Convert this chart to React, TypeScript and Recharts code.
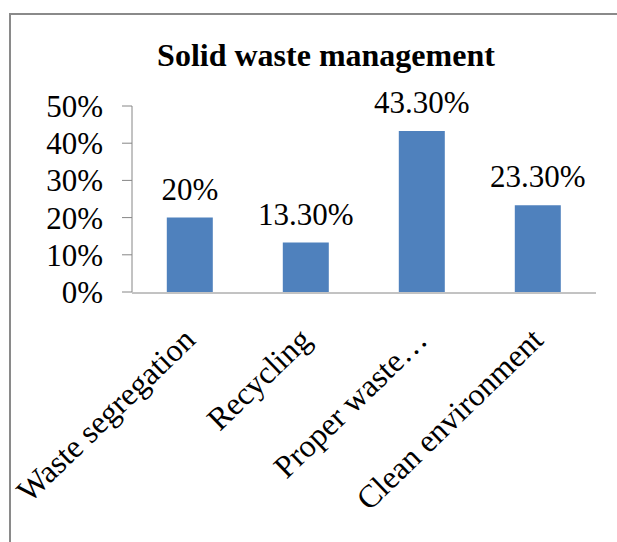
import { Bar, BarChart, LabelList, XAxis, YAxis } from "recharts";

const categories = ["Waste segregation", "Recycling", "Proper waste…", "Clean environment"];
const shares = [20, 13.3, 43.3, 23.3];
const shareLabels = ["20%", "13.30%", "43.30%", "23.30%"];
const yTicks = [0, 10, 20, 30, 40, 50];
const edgeTicks = [0, 1, 2, 3, 4];

const rows = categories.map((name, i) => ({ name, share: shares[i], label: shareLabels[i] }));

const serif = '"Liberation Serif", "Times New Roman", serif';
const axisGray = "#868686";

// 斜排类目标签（文字末端对准类目中心下方）
function SlantTick({ x, y, payload }: any) {
  return (
    <g transform={`translate(${x + 7},${y + 50})`}>
      <text textAnchor="end" transform="rotate(-44)" fontSize={32} fill="#000">
        {payload.value}
      </text>
    </g>
  );
}

export default function App() {
  return (
    <div
      style={{
        position: "absolute",
        left: 0,
        top: 0,
        width: 617,
        height: 542,
        background: "#fff",
        overflow: "hidden",
        fontFamily: serif,
      }}
    >
      <style>{`.chart-box svg text { font-family: ${serif} !important; }`}</style>
      <div
        style={{
          position: "absolute",
          left: 9,
          top: 13,
          width: 640,
          height: 560,
          borderTop: "2px solid #8a8a8a",
          borderLeft: "2px solid #8a8a8a",
        }}
      />
      <div
        style={{
          position: "absolute",
          left: 0,
          top: 39,
          width: 652,
          textAlign: "center",
          fontWeight: "bold",
          fontSize: 32,
          lineHeight: "32px",
          color: "#000",
        }}
      >
        Solid waste management
      </div>
      <div className="chart-box" style={{ position: "absolute", left: 0, top: 0 }}>
        <BarChart
          width={617}
          height={542}
          data={rows}
          barCategoryGap="30%"
          margin={{ top: 106, right: 21, bottom: 248, left: 0 }}
        >
          <XAxis
            xAxisId="edges"
            type="number"
            domain={[0, 4]}
            ticks={edgeTicks}
            interval={0}
            tick={false}
            height={1}
            tickSize={10}
            stroke={axisGray}
            axisLine={{ stroke: axisGray }}
            tickLine={{ stroke: axisGray }}
          />
          <XAxis
            xAxisId="cat"
            dataKey="name"
            height={1}
            axisLine={false}
            tickLine={false}
            tickSize={0}
            tickMargin={0}
            interval={0}
            tick={<SlantTick />}
          />
          <YAxis
            domain={[0, 50]}
            ticks={yTicks}
            interval={0}
            width={132}
            tickSize={10}
            tickMargin={19}
            stroke={axisGray}
            tickFormatter={(v) => `${v}%`}
            tick={{ fill: "#000", fontSize: 31 }}
          />
          <Bar dataKey="share" xAxisId="cat" fill="#4F81BD" isAnimationActive={false}>
            <LabelList dataKey="label" position="top" offset={18} fill="#000" fontSize={31} />
          </Bar>
        </BarChart>
      </div>
    </div>
  );
}
